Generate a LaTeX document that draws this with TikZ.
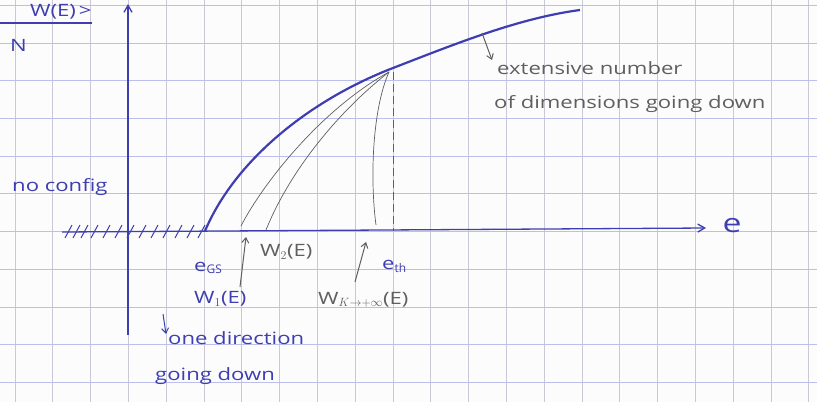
\documentclass[tikz,border=0pt]{standalone}
\usepackage{fontspec}
\setmainfont{Open Sans}
\newfontfamily\handfont[FakeStretch=1.3]{Open Sans}
\usetikzlibrary{arrows.meta}
\definecolor{ink}{RGB}{62,62,178}
\definecolor{pencil}{RGB}{95,95,95}
\definecolor{gridh}{RGB}{188,190,236}
\definecolor{gridv}{RGB}{200,200,214}
\definecolor{paper}{RGB}{252,252,252}
\tikzset{
  hand/.style={font=\handfont\fontsize{17}{20}\selectfont, inner sep=0pt},
  bluetxt/.style={hand, text=ink},
  greytxt/.style={hand, text=pencil},
  axis/.style={ink, line width=1.3pt, -{Straight Barb[length=7pt,width=8pt]}},
  thin grey/.style={pencil, line width=0.7pt},
  pointer/.style={line width=1pt, -{Straight Barb[length=5pt,width=7pt]}}
}
\begin{document}
\begin{tikzpicture}[x=1pt,y=-1pt]
\useasboundingbox (0,0) rectangle (817,402);
\fill[paper] (0,0) rectangle (817,402);
% grid
\foreach \k in {0,...,21} \draw[gridv, line width=0.8pt] ({15+37.8*\k},0) -- ({15+37.8*\k},402);
\foreach \k in {0,...,10} \draw[gridh, line width=0.8pt] (0,{5.3+37.7*\k}) -- (817,{5.3+37.7*\k});
% axes
\coordinate (ybot) at (128,335);
\coordinate (ytop) at (128,4);
\coordinate (xleft) at (62,232);
\coordinate (xright) at (706,228);
\draw[axis] (ybot) -- (ytop);
\draw[axis] (xleft) -- (xright);
\node[bluetxt, font=\handfont\fontsize{26}{28}\selectfont] (elab) at (732,226) {e};
% hatching
\foreach \x in {68,76,84,94,106,118,130,142,154,166,178,190,201}
  \draw[ink, line width=1pt] (\x-3,238) -- (\x+4,225);
% curves
\coordinate (egs) at (205,231);
\coordinate (meet) at (389,72);
\coordinate (cend) at (580,10);
\draw[thin grey] (241,226) .. controls (262,185) and (320,110) .. (meet);
\draw[thin grey] (266,230) .. controls (290,170) and (340,110) .. (meet);
\draw[thin grey] (376,225) .. controls (370,180) and (372,110) .. (meet);
\draw[pencil, line width=0.8pt, dash pattern=on 8pt off 4pt] (393,72) -- (393,231);
\draw[ink, line width=2.2pt] (egs) .. controls (235,160) and (310,100) .. (393,68) .. controls (460,42) and (520,18) .. (cend);
% top-left label
\node[bluetxt, anchor=north west] (wlab) at (30,4) {W(E)\,>};
\coordinate (barl) at (0,23);
\coordinate (barr) at (92,23);
\draw[ink, line width=1.2pt] (barl) -- (barr);
\node[bluetxt, anchor=west] (nlab) at (10,45) {N};
\node[bluetxt, anchor=west] (noconf) at (12,187) {no config};
% grey annotations
\coordinate (extA) at (482,33);
\coordinate (extB) at (492,60);
\draw[pointer, pencil] (extA) -- (extB);
\node[greytxt, anchor=west] (ext1) at (497,68) {extensive number};
\node[greytxt, anchor=west] (ext2) at (494,104) {of dimensions going down};
% labels below axis
\node[bluetxt, anchor=west] (egslab) at (194,268) {e$_{\mathrm{GS}}$};
\node[bluetxt, anchor=west] (w1lab) at (194,299) {W$_1$(E)};
\coordinate (dA) at (163,314);
\coordinate (dB) at (166,334);
\draw[pointer, ink] (dA) -- (dB);
\node[bluetxt, anchor=west] (onedir) at (168,338) {one direction};
\node[bluetxt, anchor=west] (gdown) at (155,376) {going down};
\coordinate (w2A) at (240,287);
\coordinate (w2B) at (246,237);
\draw[pointer, pencil] (w2A) -- (w2B);
\node[greytxt, anchor=west] (w2lab) at (260,252) {W$_2$(E)};
\coordinate (wkA) at (355,282);
\coordinate (wkB) at (366,242);
\draw[pointer, pencil] (wkA) -- (wkB);
\node[bluetxt, anchor=west] (ethlab) at (382,266) {e$_{\mathrm{th}}$};
\node[greytxt, anchor=west] (wklab) at (318,300) {W$_{K\to+\infty}$(E)};
\end{tikzpicture}
\end{document}
